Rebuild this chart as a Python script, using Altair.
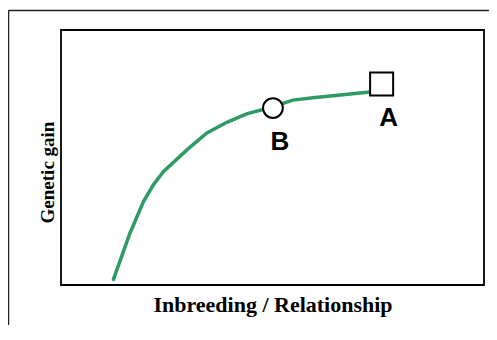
import altair as alt
import pandas as pd

# Curve (arbitrary 0-100 units)
curve_x = [12.4, 16.3, 19.5, 21.8, 24.2, 29.7, 34.4, 39.2, 43.9, 50.1, 54.8, 59.6, 73.0]
curve_y = [2.2, 20.3, 32.7, 39.2, 44.4, 52.9, 59.5, 63.8, 67.1, 69.9, 72.5, 73.4, 75.7]

# Marked points
point_labels = ["B", "A"]
point_x = [50.1, 75.8]
point_y = [69.4, 78.8]
point_shapes = ["circle", "square"]

curve = pd.DataFrame({"x": curve_x, "y": curve_y, "order": list(range(len(curve_x)))})
pts = pd.DataFrame({"label": point_labels, "x": point_x, "y": point_y, "shape": point_shapes})

xs = alt.Scale(domain=[0, 100], nice=False, zero=False)
ys = alt.Scale(domain=[0, 100], nice=False, zero=False)

common = dict(titleFont="Liberation Serif", titleFontWeight="bold", titleColor="black")

x_axis = alt.Axis(title="Inbreeding / Relationship", labels=False, ticks=False, domain=False,
                  grid=False, titleY=26, titleBaseline="alphabetic", titleFontSize=22, **common)
y_axis = alt.Axis(title="Genetic gain", labels=False, ticks=False, domain=False, grid=False,
                  titleX=-4, titleY=142, titleBaseline="bottom", titleAngle=270,
                  titleFontSize=19, **common)

line = alt.Chart(curve).mark_line(color="#2E9B63", strokeWidth=3.5, strokeCap="round").encode(
    x=alt.X("x:Q", scale=xs, axis=x_axis),
    y=alt.Y("y:Q", scale=ys, axis=y_axis),
    order="order:O",
)

circ = alt.Chart(pts[pts["shape"] == "circle"]).mark_point(
    shape="circle", size=390, filled=True, fill="white", stroke="black", strokeWidth=2, opacity=1
).encode(x=alt.X("x:Q", scale=xs), y=alt.Y("y:Q", scale=ys))

sq = alt.Chart(pts[pts["shape"] == "square"]).mark_point(
    shape="square", size=530, filled=True, fill="white", stroke="black", strokeWidth=2, opacity=1
).encode(x=alt.X("x:Q", scale=xs), y=alt.Y("y:Q", scale=ys))

labels = alt.Chart(pts).mark_text(
    font="Liberation Sans", fontSize=26, fontWeight="bold", color="black",
    dx=7, dy=34, align="center", baseline="middle"
).encode(x=alt.X("x:Q", scale=xs), y=alt.Y("y:Q", scale=ys), text="label:N")

frame_data = alt.Data(values=[{"k": 1}])
left_rule = alt.Chart(frame_data).mark_rule(color="#222222", strokeWidth=1.5).encode(
    x=alt.value(-52.5), y=alt.value(-19.5), y2=alt.value(400)
)
top_rule = alt.Chart(frame_data).mark_rule(color="#222222", strokeWidth=1.5).encode(
    x=alt.value(-52.5), x2=alt.value(600), y=alt.value(-19.5)
)

chart = alt.layer(line, circ, sq, labels, left_rule, top_rule).properties(
    width=423,
    height=255,
    padding={"left": 53, "top": 22, "right": 5, "bottom": 40},
    autosize=alt.AutoSizeParams(type="none"),
).configure(background="white").configure_view(stroke="black", strokeWidth=1.8)

chart.save("out.html", embed_options={"renderer": "svg", "actions": False})
